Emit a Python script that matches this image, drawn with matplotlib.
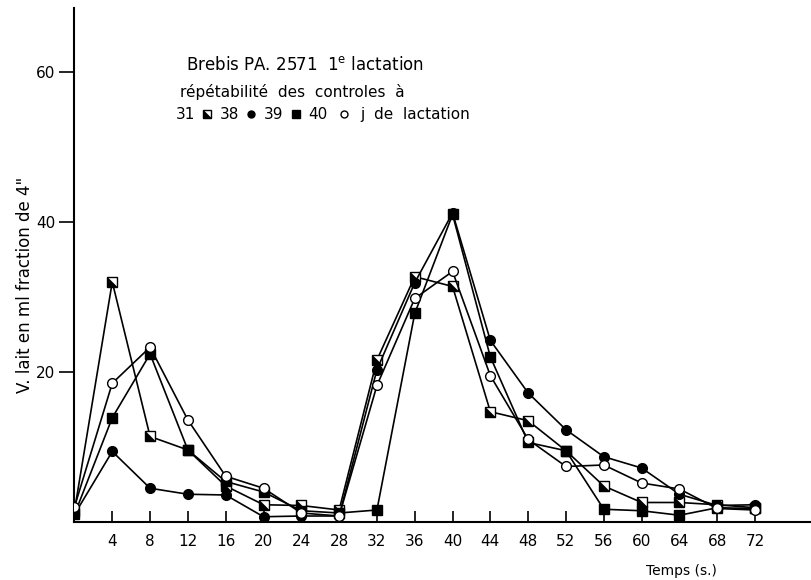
import matplotlib
matplotlib.use("Agg")
import matplotlib.pyplot as plt

# temps (s) et volume de lait par fraction de 4"
temps = [0, 4, 8, 12, 16, 20, 24, 28, 32, 36, 40, 44, 48, 52, 56, 60, 64, 68, 72]
j31 = [1.5, 32.0, 11.4, 9.6, 4.8, 2.3, 2.2, 1.6, 21.6, 32.7, 31.4, 14.7, 13.5, 9.5, 4.8, 2.6, 2.6, 2.3, 1.9]
j38 = [1.0, 9.4, 4.5, 3.7, 3.6, 0.7, 0.8, 0.8, 20.3, 31.9, 41.2, 24.2, 17.2, 12.3, 8.7, 7.2, 3.7, 2.2, 2.3]
j39 = [1.0, 13.9, 22.4, 9.6, 5.4, 4.0, 1.5, 1.2, 1.6, 27.8, 41.0, 22.0, 10.6, 9.5, 1.7, 1.5, 0.9, 1.9, 1.8]
j40 = [2.0, 18.5, 23.3, 13.6, 6.1, 4.5, 1.2, 0.8, 18.2, 29.8, 33.4, 19.5, 11.0, 7.4, 7.6, 5.2, 4.4, 1.8, 1.6]

xticks = list(range(4, 76, 4))
yticks = [20, 40, 60]

plt.rcParams['font.family'] = ['DejaVu Sans']
fig = plt.figure(figsize=(8.12, 5.80), dpi=100)
ax = fig.add_axes([0.0917, 0.10, 0.908, 0.886])

# demi-carre noir (triangle en bas a gauche)
demi = [(-1, 1), (-1, -1), (1, -1), (-1, 1)]

ax.plot(temps, j31, color='black', lw=1.2, marker='s', ms=7, mfc='white', mec='black', mew=1.0, zorder=3)
ax.plot(temps, j31, ls='none', marker=demi, ms=7, mfc='black', mec='black', mew=0.5, zorder=4)
ax.plot(temps, j38, color='black', lw=1.2, marker='o', ms=7, mfc='black', mec='black', zorder=3)
ax.plot(temps, j39, color='black', lw=1.2, marker='s', ms=7, mfc='black', mec='black', zorder=3)
ax.plot(temps, j40, color='black', lw=1.2, marker='o', ms=7, mfc='white', mec='black', mew=1.0, zorder=5)

ax.set_xlim(0, 78)
ax.set_ylim(0, 68.5)
ax.set_xticks(xticks)
ax.set_xticklabels([str(t) for t in xticks])
ax.set_yticks(yticks)
ax.spines['top'].set_visible(False)
ax.spines['right'].set_visible(False)
ax.spines['left'].set_linewidth(1.5)
ax.spines['bottom'].set_linewidth(1.5)
ax.tick_params(axis='x', direction='in', length=8, width=1.2, pad=9, labelsize=11)
ax.tick_params(axis='y', direction='out', length=11, width=1.2, pad=3, labelsize=11)

fig.text(25 / 812, 1 - 285 / 580, 'V. lait en ml fraction de 4"', rotation=90,
         ha='center', va='center', fontsize=12)
fig.text(681 / 812, 1 - 571 / 580, 'Temps (s.)', ha='center', va='center', fontsize=10)

fig.text(186 / 812, 1 - 65 / 580, r'Brebis PA. 2571  1$^{\mathrm{e}}$ lactation',
         ha='left', va='center', fontsize=12)
fig.text(180 / 812, 1 - 92 / 580, 'répétabilité  des  controles  à', ha='left', va='center', fontsize=11)

# legende en ligne
y3 = 1 - 114 / 580
fig.text(176 / 812, y3, '31', ha='left', va='center', fontsize=11)
fig.text(220 / 812, y3, '38', ha='left', va='center', fontsize=11)
fig.text(264 / 812, y3, '39', ha='left', va='center', fontsize=11)
fig.text(308 / 812, y3, '40', ha='left', va='center', fontsize=11)
fig.text(360 / 812, y3, 'j  de  lactation', ha='left', va='center', fontsize=11)
fig.lines.append(plt.Line2D([207 / 812], [y3], transform=fig.transFigure, ls='none', marker='s', ms=6,
                            mfc='white', mec='black'))
fig.lines.append(plt.Line2D([207 / 812], [y3], transform=fig.transFigure, ls='none', marker=demi, ms=6,
                            mfc='black', mec='black', mew=0.5))
fig.lines.append(plt.Line2D([251 / 812], [y3], transform=fig.transFigure, ls='none', marker='o', ms=5,
                            mfc='black', mec='black'))
fig.lines.append(plt.Line2D([296 / 812], [y3], transform=fig.transFigure, ls='none', marker='s', ms=6,
                            mfc='black', mec='black'))
fig.lines.append(plt.Line2D([344 / 812], [y3], transform=fig.transFigure, ls='none', marker='o', ms=5,
                            mfc='white', mec='black'))

fig.savefig('out.png', dpi=100)
